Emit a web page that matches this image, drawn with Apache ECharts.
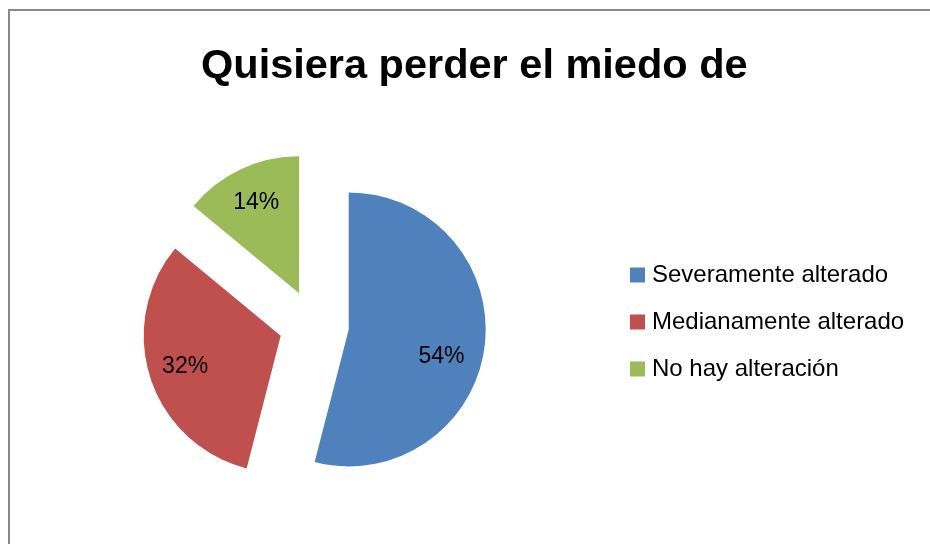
<!DOCTYPE html>
<html>
<head>
<meta charset="utf-8">
<script src="https://cdn.jsdelivr.net/npm/echarts@6/dist/echarts.min.js"></script>
<style>
  html, body { margin: 0; padding: 0; background: #fff; }
  #chart { width: 930px; height: 544px; }
</style>
</head>
<body>
<div id="chart"></div>
<script>
const categories = ['Severamente alterado', 'Medianamente alterado', 'No hay alteración']
const percents = [54, 32, 14]
const colors = ['#4F81BD', '#C0504D', '#9BBB59']

const FONT = '"Liberation Sans", Arial, sans-serif'

const chart = echarts.init(document.getElementById('chart'))

const pieData = categories.map((name, i) => ({
  name,
  value: percents[i],
  selected: true,
  itemStyle: { color: colors[i] },
}))

// label-only layer so the percentages sit further out like Excel does
const labelData = categories.map((name, i) => ({
  name,
  value: percents[i],
  selected: true,
  // Excel drops the big slice's label a bit lower than the mid-angle
  label: i === 0 ? { formatter: '\n{c}%', lineHeight: 30, padding: [0, 14, 0, 0] } : undefined,
}))

chart.setOption({
  animation: false,
  backgroundColor: '#fff',
  title: {
    text: 'Quisiera perder el miedo de',
    left: 196,
    top: 41,
    textStyle: { fontFamily: FONT, fontSize: 41.5, fontWeight: 'bold', color: '#000' },
  },
  legend: {
    orient: 'vertical',
    left: 625,
    top: 258,
    itemWidth: 15,
    itemHeight: 15,
    itemGap: 23,
    icon: 'rect',
    selectedMode: false,
    data: categories.map((name, i) => ({ name, itemStyle: { color: colors[i] } })),
    textStyle: { fontFamily: FONT, fontSize: 24, color: '#000', padding: [0, 0, 0, 2] },
  },
  graphic: [{
    type: 'rect',
    silent: true,
    shape: { x: 9, y: 10, width: 960, height: 600 },
    style: { fill: 'none', stroke: '#898989', lineWidth: 2 },
  }],
  series: [
    {
      type: 'pie',
      center: [314, 325],
      radius: [0, 137],
      startAngle: 90,
      clockwise: true,
      selectedMode: 'multiple',
      selectedOffset: 35,
      silent: true,
      label: { show: false },
      labelLine: { show: false },
      emphasis: { disabled: true },
      data: pieData,
    },
    {
      type: 'pie',
      center: [314, 325],
      radius: [58, 137],
      startAngle: 90,
      clockwise: true,
      selectedMode: 'multiple',
      selectedOffset: 35,
      silent: true,
      itemStyle: { color: 'rgba(0,0,0,0)' },
      label: {
        show: true,
        position: 'inside',
        formatter: '{c}%',
        fontFamily: FONT,
        fontSize: 23,
        color: '#000',
      },
      labelLine: { show: false },
      emphasis: { disabled: true },
      data: labelData,
    },
  ],
})
</script>
</body>
</html>
